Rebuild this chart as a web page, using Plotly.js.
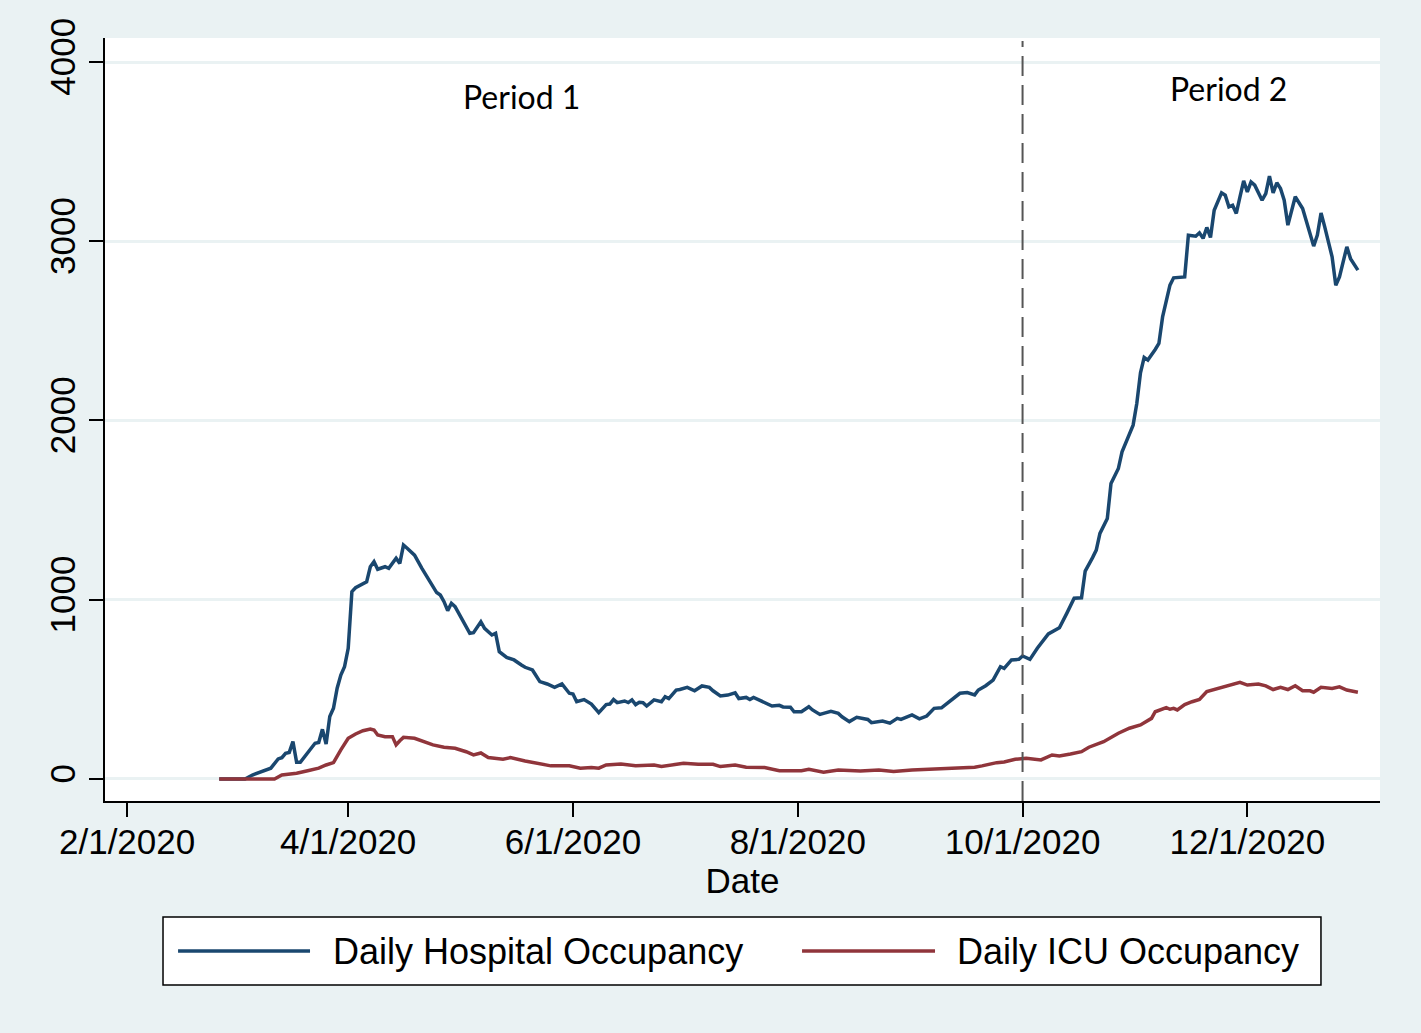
<!DOCTYPE html>
<html>
<head>
<meta charset="utf-8">
<script src="https://cdn.plot.ly/plotly-3.0.1.min.js"></script>
<style>
  html, body { margin: 0; padding: 0; background: #EAF2F3; }
  #myDiv { width: 1421px; height: 1033px; }
</style>
</head>
<body>
<div id="myDiv"></div>
<script>
// hospital occupancy
const hospDates = [
  '2020-02-26','2020-03-01','2020-03-04','2020-03-06','2020-03-08','2020-03-11','2020-03-13','2020-03-14',
  '2020-03-15','2020-03-16','2020-03-17','2020-03-18','2020-03-19','2020-03-21','2020-03-23','2020-03-24',
  '2020-03-25','2020-03-26','2020-03-27','2020-03-28','2020-03-29','2020-03-30','2020-03-31','2020-04-01',
  '2020-04-02','2020-04-03','2020-04-05','2020-04-06','2020-04-07','2020-04-08','2020-04-09','2020-04-11',
  '2020-04-12','2020-04-13','2020-04-14','2020-04-15','2020-04-16','2020-04-17','2020-04-19','2020-04-21',
  '2020-04-23','2020-04-25','2020-04-26','2020-04-27','2020-04-28','2020-04-29','2020-04-30','2020-05-02',
  '2020-05-03','2020-05-04','2020-05-05','2020-05-07','2020-05-08','2020-05-10','2020-05-11','2020-05-12',
  '2020-05-14','2020-05-16','2020-05-18','2020-05-19','2020-05-21','2020-05-22','2020-05-23','2020-05-25',
  '2020-05-27','2020-05-29','2020-05-31','2020-06-01','2020-06-02','2020-06-04','2020-06-06','2020-06-07',
  '2020-06-08','2020-06-10','2020-06-11','2020-06-12','2020-06-13','2020-06-15','2020-06-16','2020-06-17',
  '2020-06-18','2020-06-19','2020-06-20','2020-06-21','2020-06-23','2020-06-25','2020-06-26','2020-06-27',
  '2020-06-29','2020-06-30','2020-07-02','2020-07-04','2020-07-06','2020-07-08','2020-07-09','2020-07-11',
  '2020-07-13','2020-07-15','2020-07-16','2020-07-18','2020-07-19','2020-07-20','2020-07-22','2020-07-24',
  '2020-07-25','2020-07-27','2020-07-28','2020-07-30','2020-07-31','2020-08-02','2020-08-04','2020-08-05',
  '2020-08-07','2020-08-08','2020-08-10','2020-08-12','2020-08-13','2020-08-15','2020-08-17','2020-08-20',
  '2020-08-21','2020-08-24','2020-08-26','2020-08-28','2020-08-29','2020-09-01','2020-09-03','2020-09-05',
  '2020-09-07','2020-09-09','2020-09-10','2020-09-14','2020-09-16','2020-09-18','2020-09-19','2020-09-21',
  '2020-09-23','2020-09-25','2020-09-26','2020-09-28','2020-09-30','2020-10-01','2020-10-03','2020-10-05',
  '2020-10-08','2020-10-11','2020-10-13','2020-10-15','2020-10-17','2020-10-18','2020-10-20','2020-10-21',
  '2020-10-22','2020-10-23','2020-10-24','2020-10-25','2020-10-27','2020-10-28','2020-10-30','2020-10-31',
  '2020-11-01','2020-11-02','2020-11-03','2020-11-04','2020-11-06','2020-11-07','2020-11-08','2020-11-09',
  '2020-11-10','2020-11-11','2020-11-14','2020-11-15','2020-11-17','2020-11-18','2020-11-19','2020-11-20',
  '2020-11-21','2020-11-22','2020-11-24','2020-11-25','2020-11-26','2020-11-27','2020-11-28','2020-11-29',
  '2020-11-30','2020-12-01','2020-12-02','2020-12-03','2020-12-05','2020-12-06','2020-12-07','2020-12-08',
  '2020-12-09','2020-12-10','2020-12-11','2020-12-12','2020-12-14','2020-12-16','2020-12-17','2020-12-19',
  '2020-12-20','2020-12-21','2020-12-22','2020-12-24','2020-12-25','2020-12-26','2020-12-28','2020-12-29',
  '2020-12-31'
];
const hospValues = [
  0, 0, 0, 22, 37, 60, 112, 119,
  143, 148, 208, 93, 93, 143, 199, 203,
  277, 195, 348, 394, 506, 580, 626, 729,
  1045, 1067, 1090, 1100, 1184, 1212, 1170, 1184,
  1175, 1203, 1231, 1203, 1305, 1287, 1249, 1175,
  1110, 1040, 1026, 989, 939, 980, 961, 887,
  859, 813, 816, 877, 840, 803, 813, 710,
  678, 664, 636, 623, 608, 571, 543, 530,
  511, 530, 478, 474, 431, 443, 418, 394,
  370, 415, 418, 443, 426, 435, 426, 441,
  415, 428, 426, 407, 441, 431, 459, 448,
  496, 499, 511, 492, 519, 511, 492, 463,
  468, 481, 449, 455, 443, 455, 437, 418,
  407, 411, 402, 400, 375, 375, 403, 385,
  360, 366, 377, 366, 347, 320, 344, 332,
  314, 323, 311, 338, 332, 357, 335, 351,
  394, 397, 413, 478, 482, 469, 496, 520,
  552, 626, 617, 664, 667, 686, 667, 729,
  809, 844, 924, 1008, 1011, 1160, 1235, 1277,
  1370, 1417, 1453, 1649, 1732, 1825, 1919, 1974,
  2095, 2266, 2352, 2337, 2396, 2430, 2578, 2672,
  2755, 2796, 2801, 3034, 3028, 3047, 3016, 3077,
  3021, 3173, 3270, 3257, 3192, 3201, 3155, 3248,
  3337, 3275, 3331, 3313, 3229, 3266, 3363, 3270,
  3326, 3294, 3229, 3090, 3248, 3183, 3117, 2973,
  3034, 3158, 3080, 2913, 2755, 2801, 2969, 2903,
  2839
];

// ICU occupancy
const icuDates = [
  '2020-02-26','2020-03-12','2020-03-14','2020-03-18','2020-03-21','2020-03-24','2020-03-26','2020-03-28',
  '2020-03-30','2020-04-01','2020-04-03','2020-04-05','2020-04-07','2020-04-08','2020-04-09','2020-04-11',
  '2020-04-13','2020-04-14','2020-04-15','2020-04-16','2020-04-19','2020-04-21','2020-04-24','2020-04-27',
  '2020-04-30','2020-05-03','2020-05-05','2020-05-07','2020-05-09','2020-05-13','2020-05-15','2020-05-19',
  '2020-05-23','2020-05-26','2020-05-31','2020-06-03','2020-06-06','2020-06-08','2020-06-10','2020-06-14',
  '2020-06-18','2020-06-23','2020-06-25','2020-07-01','2020-07-05','2020-07-09','2020-07-11','2020-07-15',
  '2020-07-18','2020-07-23','2020-07-27','2020-08-02','2020-08-04','2020-08-08','2020-08-12','2020-08-18',
  '2020-08-23','2020-08-27','2020-09-01','2020-09-06','2020-09-09','2020-09-14','2020-09-18','2020-09-20',
  '2020-09-24','2020-09-26','2020-09-29','2020-10-02','2020-10-04','2020-10-06','2020-10-09','2020-10-11',
  '2020-10-14','2020-10-17','2020-10-19','2020-10-23','2020-10-27','2020-10-30','2020-11-02','2020-11-05',
  '2020-11-06','2020-11-09','2020-11-10','2020-11-11','2020-11-12','2020-11-14','2020-11-16','2020-11-18',
  '2020-11-20','2020-11-22','2020-11-25','2020-11-26','2020-11-29','2020-12-01','2020-12-04','2020-12-06',
  '2020-12-08','2020-12-10','2020-12-12','2020-12-14','2020-12-16','2020-12-18','2020-12-19','2020-12-21',
  '2020-12-24','2020-12-26','2020-12-28','2020-12-31'
];
const icuValues = [
  0, 0, 22, 32, 46, 60, 78, 91,
  162, 227, 251, 269, 279, 273, 245, 236,
  236, 190, 213, 232, 227, 214, 190, 177,
  171, 152, 134, 145, 120, 110, 119, 100,
  82, 73, 73, 60, 64, 60, 78, 84,
  74, 78, 70, 87, 82, 82, 69, 78,
  65, 64, 46, 46, 54, 38, 50, 45,
  50, 41, 50, 54, 60, 65, 65, 73,
  91, 95, 110, 115, 110, 106, 134, 128,
  139, 152, 177, 208, 255, 283, 301, 338,
  375, 398, 389, 394, 385, 415, 431, 443,
  487, 499, 519, 524, 539, 524, 530, 519,
  499, 511, 499, 520, 492, 492, 484, 511,
  505, 514, 496, 484
];

const tickDates = ['2020-02-01','2020-04-01','2020-06-01','2020-08-01','2020-10-01','2020-12-01'];
const tickLabels = ['2/1/2020','4/1/2020','6/1/2020','8/1/2020','10/1/2020','12/1/2020'];
const yTicks = [0, 1000, 2000, 3000, 4000];

const seriesNames = ['Daily Hospital Occupancy', 'Daily ICU Occupancy'];
const seriesColors = ['#1a476f', '#90353b'];

const sans = 'Liberation Sans, Arial, sans-serif';

var data = [
  {
    x: hospDates,
    y: hospValues,
    type: 'scatter',
    mode: 'lines',
    name: seriesNames[0],
    line: { color: seriesColors[0], width: 3.5 },
    showlegend: false
  },
  {
    x: icuDates,
    y: icuValues,
    type: 'scatter',
    mode: 'lines',
    name: seriesNames[1],
    line: { color: seriesColors[1], width: 3.5 },
    showlegend: false
  }
];

// legend drawn by hand so the line samples are long like the original
var legY = -0.1966;
var shapes = [
  {
    type: 'line', xref: 'x', yref: 'paper',
    x0: '2020-10-01', x1: '2020-10-01', y0: 0, y1: 0.996,
    line: { color: '#555555', width: 2, dash: '20px,9px' }
  },
  {
    type: 'rect', xref: 'paper', yref: 'paper',
    x0: 0.0455, x1: 0.9537, y0: -0.2412, y1: -0.152,
    fillcolor: 'white', line: { color: '#000', width: 1.5 }
  },
  {
    type: 'line', xref: 'paper', yref: 'paper',
    x0: 0.0573, x1: 0.1608, y0: legY, y1: legY,
    line: { color: seriesColors[0], width: 3.5 }
  },
  {
    type: 'line', xref: 'paper', yref: 'paper',
    x0: 0.5467, x1: 0.651, y0: legY, y1: legY,
    line: { color: seriesColors[1], width: 3.5 }
  }
];

var annotations = [
  {
    xref: 'x', yref: 'y', x: '2020-05-18', y: 3810,
    text: 'Period 1', showarrow: false,
    font: { family: 'Lato, Open Sans, sans-serif', size: 32, color: '#000' }
  },
  {
    xref: 'x', yref: 'y', x: '2020-11-26', y: 3850,
    text: 'Period 2', showarrow: false,
    font: { family: 'Lato, Open Sans, sans-serif', size: 32, color: '#000' }
  },
  {
    xref: 'paper', yref: 'paper', x: 0.1773, y: legY,
    xanchor: 'left', yanchor: 'middle', showarrow: false,
    text: seriesNames[0], font: { family: sans, size: 36, color: '#000' }
  },
  {
    xref: 'paper', yref: 'paper', x: 0.6667, y: legY,
    xanchor: 'left', yanchor: 'middle', showarrow: false,
    text: seriesNames[1], font: { family: sans, size: 36, color: '#000' }
  }
];

var layout = {
  width: 1421,
  height: 1033,
  margin: { l: 105, r: 41, t: 38, b: 232 },
  paper_bgcolor: '#EAF2F3',
  plot_bgcolor: '#ffffff',
  font: { family: sans, color: '#000' },
  xaxis: {
    type: 'date',
    range: ['2020-01-26', '2021-01-06'],
    tickmode: 'array',
    tickvals: tickDates,
    ticktext: tickLabels,
    ticks: 'outside',
    ticklen: 14,
    tickwidth: 2,
    tickcolor: '#000',
    ticklabelstandoff: -5,
    showline: true,
    linecolor: '#000',
    linewidth: 2,
    showgrid: false,
    zeroline: false,
    tickfont: { family: sans, size: 35, color: '#000' },
    title: { text: 'Date', font: { family: sans, size: 35, color: '#000' }, standoff: 0 }
  },
  yaxis: {
    range: [-123, 4134],
    tickmode: 'array',
    tickvals: yTicks,
    tickangle: -90,
    ticks: 'outside',
    ticklen: 14,
    tickwidth: 2,
    tickcolor: '#000',
    showline: true,
    linecolor: '#000',
    linewidth: 2,
    showgrid: true,
    gridcolor: '#EAF2F3',
    gridwidth: 3,
    zeroline: false,
    tickfont: { family: sans, size: 35, color: '#000' }
  },
  shapes: shapes,
  annotations: annotations,
  showlegend: false
};

Plotly.newPlot('myDiv', data, layout, { displayModeBar: false, staticPlot: true });
</script>
</body>
</html>
